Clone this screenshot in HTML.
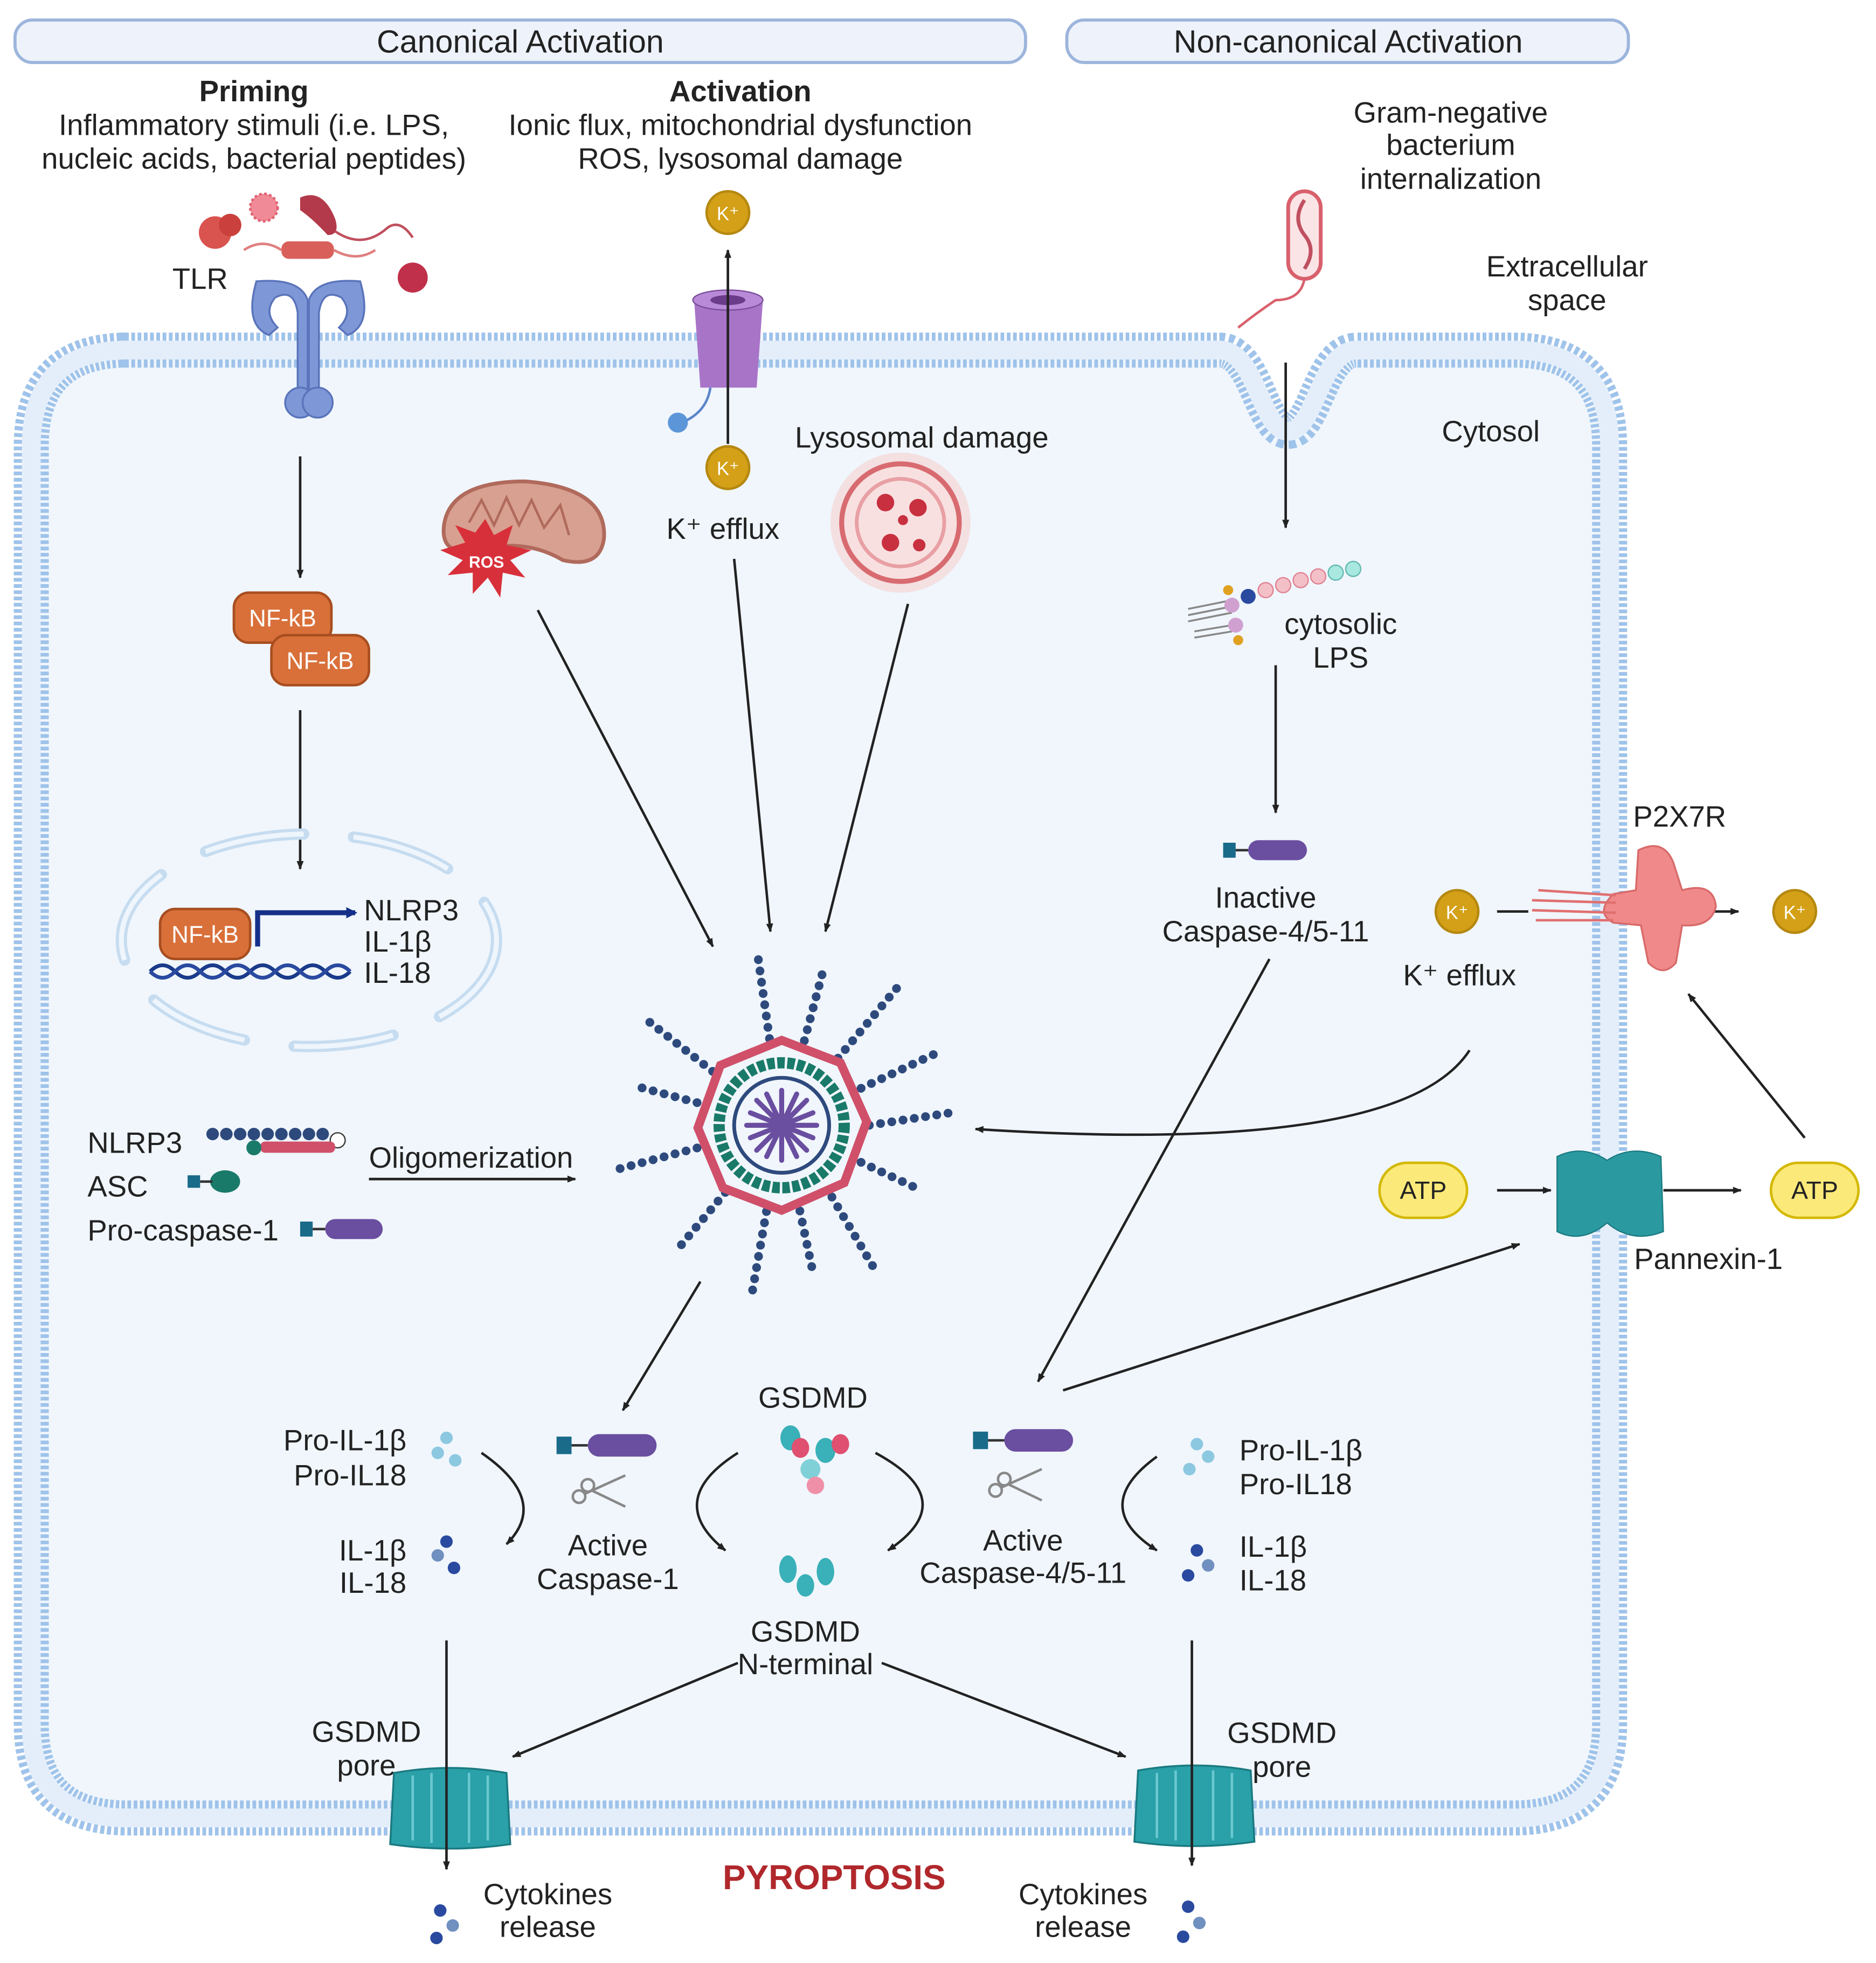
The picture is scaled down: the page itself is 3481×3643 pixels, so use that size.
<!DOCTYPE html>
<html><head><meta charset="utf-8"><style>
html,body{margin:0;padding:0;background:#fff}
svg{display:block}
text{font-family:"Liberation Sans",sans-serif;fill:#222}
</style></head><body>
<svg width="3481" height="3643" viewBox="0 0 1500 1570" preserveAspectRatio="none" xmlns="http://www.w3.org/2000/svg">
<defs>
<marker id="ah" viewBox="0 0 10 10" refX="9" refY="5" markerWidth="7" markerHeight="7" orient="auto-start-reverse" markerUnits="userSpaceOnUse"><path d="M0,1 L10,5 L0,9 Z" fill="#222"/></marker>
<marker id="ahb" viewBox="0 0 10 10" refX="8" refY="5" markerWidth="9" markerHeight="9" orient="auto" markerUnits="userSpaceOnUse"><path d="M0,0 L10,5 L0,10 Z" fill="#16308a"/></marker>
</defs>
<rect width="1500" height="1570" fill="#fff"/>
<rect x="12" y="16" width="808" height="34" rx="14" fill="#eef3fb" stroke="#9db5dc" stroke-width="2.5"/>
<rect x="853" y="16" width="449" height="34" rx="14" fill="#eef3fb" stroke="#9db5dc" stroke-width="2.5"/>
<text x="416" y="42" font-size="25.5" text-anchor="middle">Canonical Activation</text>
<text x="1078" y="42" font-size="25.5" text-anchor="middle">Non-canonical Activation</text>
<path d="M95,280 H975 C1005,280 1008,345 1030,345 C1052,345 1055,280 1085,280 H1210 Q1287,280 1287,357 V1379 Q1287,1454 1210,1454 H102 Q25,1454 25,1379 V357 Q25,280 102,280 Z" fill="#f0f6fc" stroke="#9fc3ea" stroke-width="28" stroke-dasharray="3 2"/>
<path d="M95,280 H975 C1005,280 1008,345 1030,345 C1052,345 1055,280 1085,280 H1210 Q1287,280 1287,357 V1379 Q1287,1454 1210,1454 H102 Q25,1454 25,1379 V357 Q25,280 102,280 Z" fill="none" stroke="#e4eefa" stroke-width="15"/>
<g font-size="23.5" text-anchor="middle">
<text x="203" y="81" font-weight="bold">Priming</text>
<text x="203" y="108">Inflammatory stimuli (i.e. LPS,</text>
<text x="203" y="135">nucleic acids, bacterial peptides)</text>
<text x="592" y="81" font-weight="bold">Activation</text>
<text x="592" y="108">Ionic flux, mitochondrial dysfunction</text>
<text x="592" y="135">ROS, lysosomal damage</text>
<text x="1160" y="98">Gram-negative</text>
<text x="1160" y="124">bacterium</text>
<text x="1160" y="151">internalization</text>
<text x="1253" y="221">Extracellular</text>
<text x="1253" y="248">space</text>
<text x="1192" y="353">Cytosol</text>
<text x="160" y="231">TLR</text>
<text x="737" y="358">Lysosomal damage</text>
<text x="578" y="431">K⁺ efflux</text>
<text x="1072" y="507">cytosolic</text>
<text x="1072" y="534">LPS</text>
<text x="1012" y="726">Inactive</text>
<text x="1012" y="753">Caspase-4/5-11</text>
<text x="1343" y="661">P2X7R</text>
<text x="1167" y="788">K⁺ efflux</text>
<text x="1366" y="1015">Pannexin-1</text>
<text x="650" y="1126">GSDMD</text>
<text x="486" y="1244">Active</text>
<text x="486" y="1271">Caspase-1</text>
<text x="818" y="1240">Active</text>
<text x="818" y="1266">Caspase-4/5-11</text>
<text x="644" y="1313">GSDMD</text>
<text x="644" y="1339">N-terminal</text>
<text x="293" y="1393">GSDMD</text>
<text x="293" y="1420">pore</text>
<text x="1025" y="1394">GSDMD</text>
<text x="1025" y="1421">pore</text>
<text x="438" y="1523">Cytokines</text>
<text x="438" y="1549">release</text>
<text x="866" y="1523">Cytokines</text>
<text x="866" y="1549">release</text>
</g>
<g font-size="23.5">
<text x="291" y="736">NLRP3</text>
<text x="291" y="761">IL-1β</text>
<text x="291" y="786">IL-18</text>
<text x="70" y="922">NLRP3</text>
<text x="70" y="957">ASC</text>
<text x="70" y="992">Pro-caspase-1</text>
<text x="295" y="934">Oligomerization</text>
<text x="991" y="1168">Pro-IL-1β</text>
<text x="991" y="1195">Pro-IL18</text>
<text x="991" y="1245">IL-1β</text>
<text x="991" y="1272">IL-18</text>
</g>
<g font-size="23.5" text-anchor="end">
<text x="325" y="1160">Pro-IL-1β</text>
<text x="325" y="1188">Pro-IL18</text>
<text x="325" y="1248">IL-1β</text>
<text x="325" y="1274">IL-18</text>
</g>
<text x="667" y="1511" font-size="27.5" font-weight="bold" text-anchor="middle" style="fill:#b0282c">PYROPTOSIS</text>

<g>
<circle cx="172" cy="186" r="13" fill="#d9534f"/><circle cx="184" cy="180" r="9" fill="#c9403c"/>
<circle cx="211" cy="166" r="11" fill="#f08a96" stroke="#e06070" stroke-width="2" stroke-dasharray="2 2"/>
<path d="M240,158 Q258,150 268,175 Q272,188 262,188 Q250,175 240,168 Z" fill="#b33a4a"/>
<path d="M268,185 Q290,200 310,182 Q320,175 330,190" fill="none" stroke="#c0505e" stroke-width="2"/>
<rect x="225" y="193" width="42" height="14" rx="6" fill="#d9605a"/>
<path d="M195,200 Q210,190 225,200 M267,200 Q285,210 300,200" fill="none" stroke="#e08080" stroke-width="2"/>
<circle cx="330" cy="222" r="12" fill="#c0304a"/>
</g>
<g fill="#7e97d6" stroke="#5a74bb" stroke-width="1.5">
<path d="M205,225 Q195,260 215,268 L222,262 Q210,250 220,238 Q235,230 238,250 L238,315 L246,315 L246,240 Q240,222 205,225 Z"/>
<path d="M288,225 Q298,260 278,268 L271,262 Q283,250 273,238 Q258,230 255,250 L255,315 L247,315 L247,240 Q253,222 288,225 Z"/>
<ellipse cx="240" cy="322" rx="12" ry="12"/><ellipse cx="254" cy="322" rx="12" ry="12"/>
</g>
<g>
<path d="M555,240 L610,240 L605,310 L560,310 Z" fill="#a874c8"/>
<ellipse cx="582" cy="240" rx="28" ry="8" fill="#b98ad8" stroke="#7a4c9a"/>
<ellipse cx="582" cy="240" rx="14" ry="4" fill="#6a3c8a"/>
<path d="M568,310 Q565,330 545,338" fill="none" stroke="#5c86c9" stroke-width="2"/>
<circle cx="542" cy="338" r="8" fill="#5c96d9"/>
</g>
<line x1="582" y1="355" x2="582" y2="200" stroke="#222" stroke-width="2" marker-end="url(#ah)"/>
<g font-size="15" text-anchor="middle">
<circle cx="582" cy="170" r="17" fill="#d4a017" stroke="#b58810" stroke-width="2"/><text x="582" y="176" style="fill:#fff">K⁺</text>
<circle cx="582" cy="374" r="17" fill="#d4a017" stroke="#b58810" stroke-width="2"/><text x="582" y="380" style="fill:#fff">K⁺</text>
<circle cx="1165" cy="729" r="17" fill="#d4a017" stroke="#b58810" stroke-width="2"/><text x="1165" y="735" style="fill:#fff">K⁺</text>
<circle cx="1435" cy="729" r="17" fill="#d4a017" stroke="#b58810" stroke-width="2"/><text x="1435" y="735" style="fill:#fff">K⁺</text>
</g>
<path d="M355,420 Q360,385 420,385 Q485,390 483,430 Q480,455 450,448 Q420,430 380,440 Q352,445 355,420 Z" fill="#d8a090" stroke="#b06a5c" stroke-width="3"/>
<path d="M375,418 L385,400 L395,420 L405,398 L415,420 L425,400 L435,422 L448,404 L455,428" fill="none" stroke="#b06a5c" stroke-width="2"/>
<polygon points="388,415 395,428 410,420 405,436 425,440 408,448 420,462 402,458 400,478 390,462 378,475 378,458 358,460 370,448 352,440 372,434 364,420 380,426" fill="#d8303a"/>
<text x="389" y="454" font-size="13" font-weight="bold" text-anchor="middle" style="fill:#fff">ROS</text>
<circle cx="720" cy="418" r="56" fill="#f5d6d6" opacity="0.7"/>
<circle cx="720" cy="418" r="47" fill="#f8e0e0" stroke="#d86b70" stroke-width="4"/>
<circle cx="720" cy="418" r="35" fill="none" stroke="#e8a0a4" stroke-width="3"/>
<g fill="#c83040"><circle cx="708" cy="402" r="7"/><circle cx="734" cy="406" r="7"/><circle cx="712" cy="434" r="7"/><circle cx="735" cy="436" r="5"/><circle cx="722" cy="416" r="4"/></g>
<rect x="1030" y="153" width="26" height="70" rx="13" fill="#fbe4e6" stroke="#d8606c" stroke-width="3"/>
<path d="M1043,160 Q1033,175 1043,188 Q1053,200 1043,215" fill="none" stroke="#c05060" stroke-width="3"/>
<path d="M1043,223 Q1040,240 1020,240 Q1005,250 990,262" fill="none" stroke="#d8606c" stroke-width="2"/>
<g stroke="#222" stroke-width="2" fill="none" marker-end="url(#ah)">
<line x1="240" y1="365" x2="240" y2="462"/>
<line x1="240" y1="568" x2="240" y2="695"/>
<line x1="430" y1="488" x2="570" y2="757"/>
<line x1="587" y1="447" x2="616" y2="745"/>
<line x1="726" y1="483" x2="660" y2="745"/>
<line x1="1028" y1="290" x2="1028" y2="422"/>
<line x1="1020" y1="532" x2="1020" y2="650"/>
<line x1="295" y1="943" x2="460" y2="943"/>
<path d="M1175,840 Q1120,925 780,903"/>
<line x1="1443" y1="910" x2="1350" y2="795"/>
<line x1="1340" y1="729" x2="1390" y2="729"/>
<line x1="1197" y1="952" x2="1240" y2="952"/>
<line x1="1330" y1="952" x2="1392" y2="952"/>
<line x1="1015" y1="767" x2="830" y2="1105"/>
<line x1="850" y1="1112" x2="1215" y2="995"/>
<line x1="560" y1="1025" x2="498" y2="1128"/>
<line x1="590" y1="1330" x2="410" y2="1405"/>
<line x1="705" y1="1330" x2="900" y2="1405"/>
<path d="M385,1162 Q440,1200 405,1235"/>
<path d="M590,1162 Q530,1200 580,1240"/>
<path d="M700,1162 Q770,1200 710,1240"/>
<path d="M925,1165 Q870,1205 925,1240"/>
</g>
<line x1="1197" y1="729" x2="1222" y2="729" stroke="#222" stroke-width="2"/>
<g font-size="19" text-anchor="middle">
<rect x="187" y="474" width="78" height="40" rx="12" fill="#d9703a" stroke="#a84e20" stroke-width="2"/><text x="226" y="501" style="fill:#fff">NF-kB</text>
<rect x="217" y="508" width="78" height="40" rx="12" fill="#d9703a" stroke="#a84e20" stroke-width="2"/><text x="256" y="535" style="fill:#fff">NF-kB</text>
</g>
<ellipse cx="247" cy="752" rx="150" ry="85" fill="none" stroke="#c6dcf0" stroke-width="9" stroke-dasharray="80 40" stroke-linecap="round"/>
<ellipse cx="247" cy="752" rx="150" ry="85" fill="none" stroke="#eef5fc" stroke-width="4" stroke-dasharray="80 40"/>
<path d="M120,777 Q130,767 140,777 T160,777 T180,777 T200,777 T220,777 T240,777 T260,777 T280,777" fill="none" stroke="#1a3a8a" stroke-width="3"/>
<path d="M120,777 Q130,787 140,777 T160,777 T180,777 T200,777 T220,777 T240,777 T260,777 T280,777" fill="none" stroke="#2a4aa0" stroke-width="3"/>
<rect x="128" y="727" width="72" height="40" rx="12" fill="#d9703a" stroke="#a84e20" stroke-width="2"/>
<text x="164" y="754" font-size="19" text-anchor="middle" style="fill:#fff">NF-kB</text>
<path d="M206,757 V730 H284" fill="none" stroke="#16308a" stroke-width="4" marker-end="url(#ahb)"/>
<g fill="#2e4a7d"><circle cx="170" cy="907" r="5"/><circle cx="181" cy="907" r="5"/><circle cx="192" cy="907" r="5"/><circle cx="203" cy="907" r="5"/><circle cx="214" cy="907" r="5"/><circle cx="225" cy="907" r="5"/><circle cx="236" cy="907" r="5"/><circle cx="247" cy="907" r="5"/><circle cx="258" cy="907" r="5"/></g>
<circle cx="270" cy="912" r="6" fill="#fff" stroke="#333"/>
<rect x="208" y="913" width="60" height="9" rx="4" fill="#d0506a"/>
<circle cx="203" cy="918" r="6" fill="#1a7a6a"/>
<rect x="150" y="940" width="10" height="10" fill="#1a6a8a"/><ellipse cx="180" cy="945" rx="12" ry="9" fill="#1a7a6a"/><line x1="160" y1="945" x2="170" y2="945" stroke="#333" stroke-width="2"/>
<rect x="240" y="977" width="10" height="12" fill="#1a6a8a"/><line x1="250" y1="983" x2="260" y2="983" stroke="#333" stroke-width="2"/><rect x="260" y="975" width="46" height="16" rx="8" fill="#6a4ea0"/>
<g stroke="#2e4a7d" stroke-width="7" stroke-dasharray="0.1 9" stroke-linecap="round">
<g transform="rotate(0 625 900)"><line x1="695" y1="900" x2="760" y2="890"/></g>
<g transform="rotate(25 625 900)"><line x1="695" y1="900" x2="745" y2="900"/></g>
<g transform="rotate(55 625 900)"><line x1="695" y1="900" x2="760" y2="905"/></g>
<g transform="rotate(78 625 900)"><line x1="695" y1="900" x2="745" y2="900"/></g>
<g transform="rotate(100 625 900)"><line x1="695" y1="900" x2="765" y2="900"/></g>
<g transform="rotate(130 625 900)"><line x1="695" y1="900" x2="755" y2="900"/></g>
<g transform="rotate(165 625 900)"><line x1="695" y1="900" x2="760" y2="900"/></g>
<g transform="rotate(195 625 900)"><line x1="695" y1="900" x2="745" y2="900"/></g>
<g transform="rotate(218 625 900)"><line x1="695" y1="900" x2="760" y2="900"/></g>
<g transform="rotate(262 625 900)"><line x1="695" y1="900" x2="760" y2="900"/></g>
<g transform="rotate(285 625 900)"><line x1="695" y1="900" x2="750" y2="900"/></g>
<g transform="rotate(310 625 900)"><line x1="695" y1="900" x2="770" y2="900"/></g>
<g transform="rotate(335 625 900)"><line x1="695" y1="900" x2="760" y2="900"/></g>
</g>
<polygon points="625,832 672,850 693,897 675,946 625,968 578,950 558,902 576,852" fill="none" stroke="#d0506a" stroke-width="7"/>
<circle cx="625" cy="900" r="50" fill="none" stroke="#1a7a6a" stroke-width="9" stroke-dasharray="6 2"/>
<circle cx="625" cy="900" r="38" fill="none" stroke="#2e4a7d" stroke-width="3"/>
<g stroke="#6a4ea0" stroke-width="4" stroke-linecap="round">
<line x1="625" y1="872" x2="625" y2="928"/><line x1="597" y1="900" x2="653" y2="900"/><line x1="605" y1="880" x2="645" y2="920"/><line x1="645" y1="880" x2="605" y2="920"/><line x1="613" y1="875" x2="637" y2="925"/><line x1="637" y1="875" x2="613" y2="925"/><line x1="600" y1="890" x2="650" y2="910"/><line x1="650" y1="890" x2="600" y2="910"/>
</g>
<g>
<g stroke="#888" stroke-width="1.5"><line x1="950" y1="487" x2="985" y2="480"/><line x1="950" y1="492" x2="985" y2="485"/><line x1="950" y1="497" x2="985" y2="490"/><line x1="955" y1="505" x2="985" y2="500"/><line x1="955" y1="510" x2="985" y2="505"/></g>
<circle cx="985" cy="484" r="6" fill="#d0a0d0"/><circle cx="988" cy="500" r="6" fill="#d0a0d0"/>
<circle cx="982" cy="472" r="4" fill="#e0a020"/><circle cx="990" cy="512" r="4" fill="#e0a020"/>
<circle cx="998" cy="477" r="6" fill="#2a4aa0"/>
<g fill="#f4c0c8" stroke="#e08090"><circle cx="1012" cy="472" r="6"/><circle cx="1026" cy="468" r="6"/><circle cx="1040" cy="464" r="6"/><circle cx="1054" cy="461" r="6"/></g>
<g fill="#a8e8e0" stroke="#60b8b0"><circle cx="1068" cy="458" r="6"/><circle cx="1082" cy="455" r="6"/></g>
</g>
<rect x="978" y="674" width="10" height="12" fill="#1a6a8a"/><line x1="988" y1="680" x2="998" y2="680" stroke="#333" stroke-width="2"/><rect x="998" y="672" width="47" height="16" rx="8" fill="#6a4ea0"/>
<g fill="#f08a8a" stroke="#d86a6a" stroke-width="1.5">
<path d="M1310,680 Q1330,670 1338,690 L1345,712 Q1370,705 1372,725 Q1368,742 1345,740 L1340,770 Q1330,782 1318,770 L1312,740 L1290,738 Q1275,730 1290,715 L1308,712 Z"/>
<path d="M1225,720 L1292,722 M1225,728 L1292,730 M1228,736 L1290,736 M1230,712 L1292,716" stroke="#e07070" stroke-width="2" fill="none"/>
</g>
<g font-size="20" text-anchor="middle">
<rect x="1103" y="930" width="70" height="44" rx="22" fill="#fbe97a" stroke="#d4b800" stroke-width="2"/><text x="1138" y="959">ATP</text>
<rect x="1416" y="930" width="70" height="44" rx="22" fill="#fbe97a" stroke="#d4b800" stroke-width="2"/><text x="1451" y="959">ATP</text>
</g>
<path d="M1245,925 Q1265,915 1285,928 Q1305,915 1328,925 L1330,985 Q1305,995 1285,978 Q1265,995 1245,985 Z" fill="#2a9aa0" stroke="#1a7a80"/>
<rect x="445" y="1149" width="12" height="14" fill="#1a6a8a"/><line x1="457" y1="1156" x2="470" y2="1156" stroke="#333" stroke-width="2"/><rect x="470" y="1147" width="55" height="18" rx="9" fill="#6a4ea0"/>
<rect x="778" y="1145" width="12" height="14" fill="#1a6a8a"/><line x1="790" y1="1152" x2="803" y2="1152" stroke="#333" stroke-width="2"/><rect x="803" y="1143" width="55" height="18" rx="9" fill="#6a4ea0"/>
<g stroke="#888" stroke-width="2" fill="none">
<circle cx="463" cy="1197" r="5"/><circle cx="470" cy="1188" r="5"/><line x1="467" y1="1195" x2="500" y2="1180"/><line x1="473" y1="1192" x2="500" y2="1205"/>
<circle cx="796" cy="1192" r="5"/><circle cx="803" cy="1183" r="5"/><line x1="800" y1="1190" x2="833" y2="1175"/><line x1="806" y1="1187" x2="833" y2="1200"/>
</g>
<g>
<ellipse cx="632" cy="1150" rx="8" ry="10" fill="#3ab0b8"/><ellipse cx="640" cy="1158" rx="7" ry="8" fill="#e05070"/>
<ellipse cx="660" cy="1160" rx="8" ry="10" fill="#3ab0b8"/><ellipse cx="672" cy="1155" rx="7" ry="8" fill="#e05070"/>
<ellipse cx="648" cy="1175" rx="8" ry="8" fill="#80d0d8"/><ellipse cx="652" cy="1188" rx="7" ry="7" fill="#f090a8"/>
<ellipse cx="630" cy="1255" rx="7" ry="11" fill="#3ab0b8"/><ellipse cx="644" cy="1268" rx="7" ry="9" fill="#3ab0b8"/><ellipse cx="660" cy="1257" rx="7" ry="11" fill="#3ab0b8"/>
</g>
<g>
<circle cx="357" cy="1150" r="5" fill="#8cc8e0"/><circle cx="350" cy="1162" r="5" fill="#8cc8e0"/><circle cx="364" cy="1168" r="5" fill="#8cc8e0"/>
<circle cx="357" cy="1233" r="5" fill="#2a4aa0"/><circle cx="350" cy="1244" r="5" fill="#7090c0"/><circle cx="363" cy="1254" r="5" fill="#2a4aa0"/>
<circle cx="957" cy="1155" r="5" fill="#8cc8e0"/><circle cx="966" cy="1165" r="5" fill="#8cc8e0"/><circle cx="951" cy="1175" r="5" fill="#8cc8e0"/>
<circle cx="957" cy="1240" r="5" fill="#2a4aa0"/><circle cx="966" cy="1252" r="5" fill="#7090c0"/><circle cx="950" cy="1260" r="5" fill="#2a4aa0"/>
<circle cx="352" cy="1528" r="5" fill="#2a4aa0"/><circle cx="362" cy="1540" r="5" fill="#7090c0"/><circle cx="349" cy="1550" r="5" fill="#2a4aa0"/>
<circle cx="950" cy="1525" r="5" fill="#2a4aa0"/><circle cx="959" cy="1538" r="5" fill="#7090c0"/><circle cx="946" cy="1549" r="5" fill="#2a4aa0"/>
</g>
<g fill="#2aa0a8" stroke="#1a7a80" stroke-width="1.5">
<path d="M315,1418 Q360,1410 405,1418 L408,1475 Q360,1482 312,1475 Z"/>
<path d="M910,1416 Q955,1408 1000,1416 L1003,1473 Q955,1480 907,1473 Z"/>
</g>
<g stroke="#6ac8d0" stroke-width="2"><line x1="330" y1="1420" x2="330" y2="1472"/><line x1="345" y1="1418" x2="345" y2="1474"/><line x1="375" y1="1418" x2="375" y2="1474"/><line x1="390" y1="1420" x2="390" y2="1472"/>
<line x1="925" y1="1418" x2="925" y2="1470"/><line x1="940" y1="1416" x2="940" y2="1472"/><line x1="970" y1="1416" x2="970" y2="1472"/><line x1="985" y1="1418" x2="985" y2="1470"/></g>
<line x1="357" y1="1312" x2="357" y2="1495" stroke="#222" stroke-width="2" marker-end="url(#ah)"/>
<line x1="953" y1="1312" x2="953" y2="1492" stroke="#222" stroke-width="2" marker-end="url(#ah)"/>
</svg>
</body></html>
